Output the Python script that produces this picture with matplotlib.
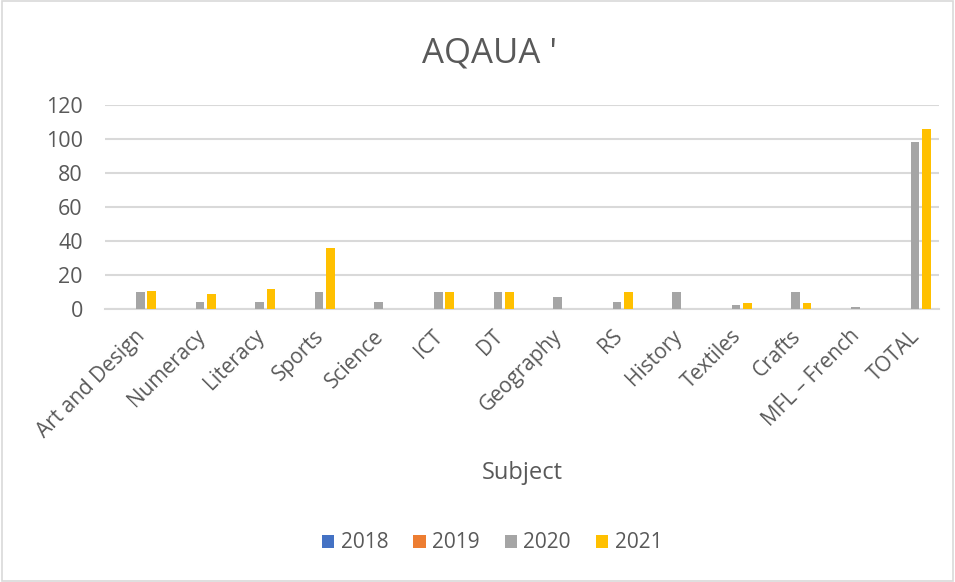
import matplotlib
matplotlib.use("Agg")
import matplotlib.pyplot as plt
import numpy as np
from matplotlib.patches import Rectangle

plt.rcParams['font.family'] = ['Open Sans', 'DejaVu Sans']

categories = ["Art and Design", "Numeracy", "Literacy", "Sports", "Science", "ICT", "DT",
              "Geography", "RS", "History", "Textiles", "Crafts", "MFL \u2013 French", "TOTAL"]
years = ["2018", "2019", "2020", "2021"]
v2018 = [0, 0, 0, 0, 0, 0, 0, 0, 0, 0, 0, 0, 0, 0]
v2019 = [0, 0, 0, 0, 0, 0, 0, 0, 0, 0, 0, 0, 0, 0]
v2020 = [10, 4, 4, 10, 4, 10, 10, 7, 4, 10, 2.5, 10, 1, 98]
v2021 = [10.5, 9, 12, 36, 0, 10, 10, 0, 10, 0, 3.5, 3.5, 0, 106]
series = [v2018, v2019, v2020, v2021]
colors = ["#4472C4", "#ED7D31", "#A5A5A5", "#FFC000"]
yticks = [0, 20, 40, 60, 80, 100, 120]

txt = "#595959"
fig = plt.figure(figsize=(9.55, 5.82), dpi=100)
ax = fig.add_axes([105/955, 1-309/582, (939-105)/955, (309-104.7)/582])

x = np.arange(len(categories))
step = 0.19
width = 0.145
for i, (vals, c, yr) in enumerate(zip(series, colors, years)):
    ax.bar(x + (i - 1.5) * step, vals, width=width, color=c, label=yr, zorder=3)

ax.set_xlim(-0.5, len(categories) - 0.5)
ax.set_ylim(0, 120)
ax.set_yticks(yticks)
ax.set_yticklabels([str(t) for t in yticks], fontsize=15.5, color=txt)
ax.yaxis.grid(True, color="#D9D9D9", linewidth=1.5, zorder=0)
ax.set_axisbelow(True)
for s in ["top", "right", "left"]:
    ax.spines[s].set_visible(False)
ax.spines["bottom"].set_color("#D9D9D9")
ax.spines["bottom"].set_linewidth(1.5)
ax.tick_params(axis="y", length=0, pad=16)
ax.tick_params(axis="x", length=0, pad=12)
ax.set_xticks(x)
ax.set_xticklabels(categories, rotation=45, ha="right", rotation_mode="anchor",
                   fontsize=15, color=txt)

fig.text(489/955, 1-53/582, "AQAUA '", ha="center", va="center", fontsize=25, color=txt)
fig.text(522/955, 1-473/582, "Subject", ha="center", va="center", fontsize=17, color=txt)

fig.legend(loc="center", bbox_to_anchor=(492/955, 1-543/582), ncol=4, frameon=False,
           fontsize=15, labelcolor=txt, handlelength=0.6, handleheight=0.6,
           handletextpad=0.3, columnspacing=1.2)

fig.patches.append(Rectangle((0.002, 0.002), 0.996, 0.996, transform=fig.transFigure,
                             fill=False, edgecolor="#D9D9D9", linewidth=1.2))

fig.savefig("out.png", dpi=100)
